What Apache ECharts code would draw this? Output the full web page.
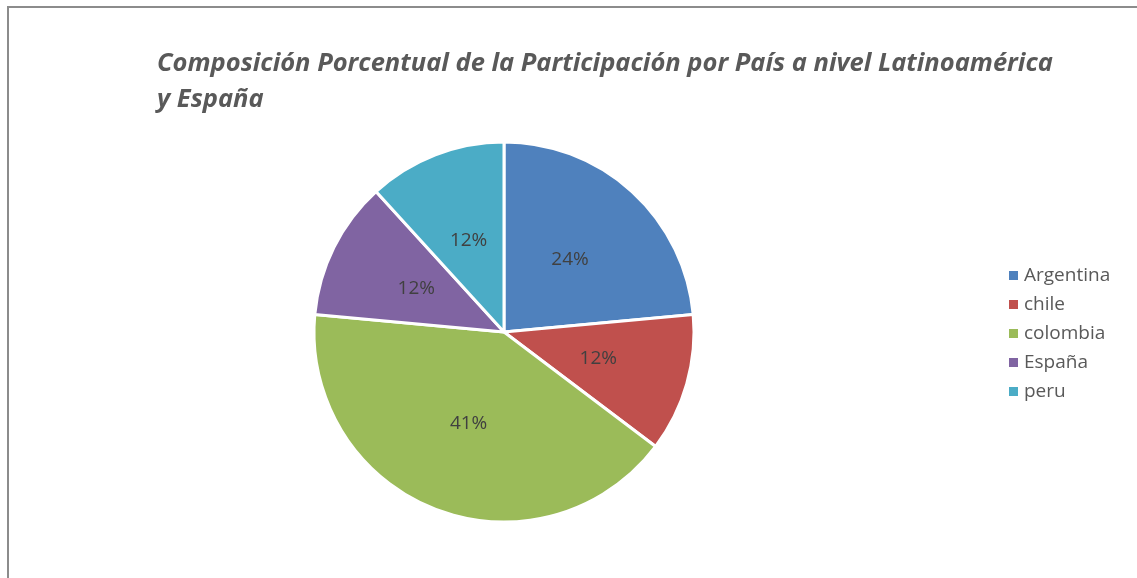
<!DOCTYPE html>
<html>
<head>
<meta charset="utf-8">
<script src="https://cdn.jsdelivr.net/npm/echarts@6/dist/echarts.min.js"></script>
<style>
  html, body { margin: 0; padding: 0; background: #fff; }
  #frame { position: absolute; left: 7px; top: 6px; width: 1130px; height: 572px;
           border-left: 2px solid #8c8c8c; border-top: 2px solid #8c8c8c; }
  #chart { position: absolute; left: 0; top: 0; width: 1137px; height: 578px; }
</style>
</head>
<body>
<div id="frame"></div>
<div id="chart"></div>
<script>
'use strict';

// data (counts that give the shown percentages)
const arrPais = ['Argentina', 'chile', 'colombia', 'España', 'peru'];
const arrValor = [4, 2, 7, 2, 2];
const arrColor = ['#4F81BD', '#C0504D', '#9BBB59', '#8064A2', '#4BACC6'];

const total = arrValor.reduce((a, b) => a + b, 0);

const chart = echarts.init(document.getElementById('chart'));

const option = {
    animation: false,
    color: arrColor,
    title: {
        text: 'Composición Porcentual de la Participación por País a nivel Latinoamérica\ny España',
        left: 152,
        top: 41,
        textStyle: {
            fontFamily: 'Open Sans',
            fontStyle: 'italic',
            fontWeight: 'bold',
            fontSize: 25.5,
            lineHeight: 36,
            color: '#595959'
        }
    },
    legend: {
        orient: 'vertical',
        left: 1002,
        top: 261,
        itemWidth: 11,
        itemHeight: 11,
        itemGap: 10,
        icon: 'rect',
        textStyle: {
            fontFamily: 'Open Sans',
            fontSize: 19,
            color: '#595959'
        },
        data: arrPais
    },
    series: [{
        type: 'pie',
        center: [504, 332],
        radius: 190,
        startAngle: 90,
        clockwise: true,
        itemStyle: {
            borderColor: '#fff',
            borderWidth: 3
        },
        label: {
            position: 'inside',
            fontFamily: 'Open Sans',
            fontSize: 19,
            color: '#404040',
            formatter: p => Math.round(p.value / total * 100) + '%'
        },
        labelLine: { show: false },
        emphasis: { disabled: true },
        data: arrPais.map((name, i) => ({ name: name, value: arrValor[i] }))
    }]
};

chart.setOption(option);
</script>
</body>
</html>
